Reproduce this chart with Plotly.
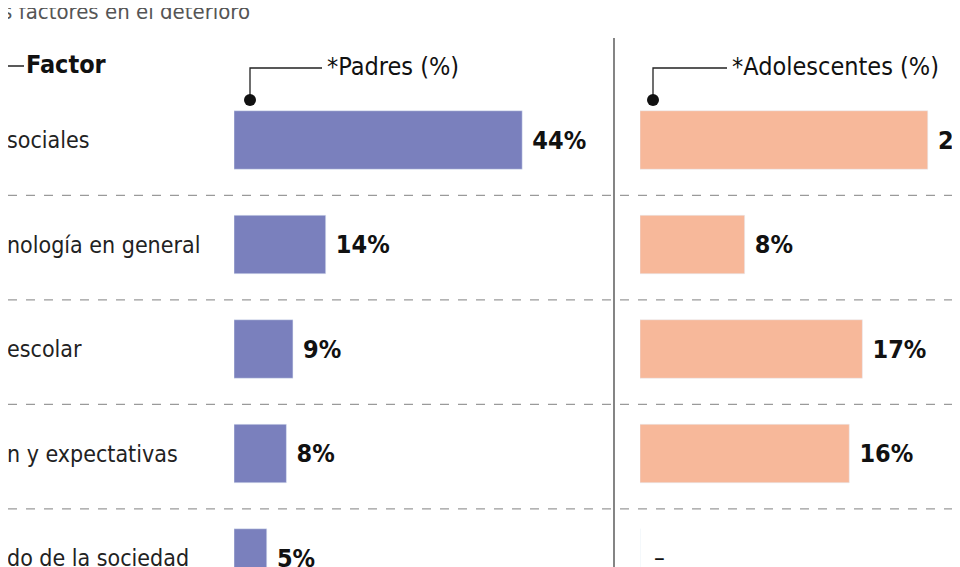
import plotly.graph_objects as go

W, H = 960, 567
OFF = 8  # page body margin

factores = ["sociales", "nología en general", "escolar", "n y expectativas", "do de la sociedad"]
padres = [44, 14, 9, 8, 5]
adolescentes = [22, 8, 17, 16, None]

FONT = "DejaVu Sans Condensed, Liberation Sans Narrow, sans-serif"
PURPLE = "#7a80bd"
SALMON = "#f7b89a"

# pixel helpers (screen pixels -> paper coords)
def px(x):
    return (x - OFF) / W

def py(y):
    return 1 - (y - OFF) / H

rows = list(range(len(factores)))
row_gap = 104.5
y_top = -(140 - OFF) / row_gap
y_bot = (H - (140 - OFF)) / row_gap

fig = go.Figure()

fig.add_trace(go.Bar(
    x=padres, y=rows, orientation="h", marker_color=PURPLE, width=0.56,
    text=[f" <b>{v}%</b>" for v in padres], textposition="outside", cliponaxis=False,
    textfont=dict(family=FONT, size=25, color="#111"), xaxis="x", yaxis="y",
))
fig.add_trace(go.Bar(
    x=[v if v is not None else 0 for v in adolescentes], y=rows, orientation="h",
    marker_color=SALMON, width=0.56,
    text=[f" <b>{v}%</b>" if v is not None else "" for v in adolescentes],
    textposition="outside", cliponaxis=False,
    textfont=dict(family=FONT, size=25, color="#111"), xaxis="x2", yaxis="y",
))

fig.add_annotation(x=1.5, y=4, xref="x2", yref="y", text="–", showarrow=False,
                   font=dict(family=FONT, size=24, color="#111"), xanchor="center")

# row labels
for i, f in enumerate(factores):
    fig.add_annotation(x=px(5), y=i, xref="paper", yref="y", text=f, showarrow=False,
                       xanchor="left", font=dict(family=FONT, size=23, color="#222"))

# dashed separators
for i in range(len(factores) - 1):
    fig.add_shape(type="line", xref="paper", yref="y", x0=0, x1=1, y0=i + 0.53, y1=i + 0.53,
                  line=dict(color="#9a9a9a", width=1.2, dash="dash"))

# vertical separator
fig.add_shape(type="line", xref="paper", yref="paper", x0=px(614), x1=px(614), y0=0, y1=py(38),
              line=dict(color="#333", width=1.2))

# headers
fig.add_annotation(x=px(-12), y=py(11), xref="paper", yref="paper", text="os factores en el deterioro",
                   showarrow=False, xanchor="left", yanchor="middle",
                   font=dict(family=FONT, size=22, color="#555"))
fig.add_shape(type="line", xref="paper", yref="paper", x0=0, x1=px(24), y0=py(66), y1=py(66),
              line=dict(color="#222", width=1.5))
fig.add_annotation(x=px(24), y=py(65), xref="paper", yref="paper", text="<b>Factor</b>",
                   showarrow=False, xanchor="left", yanchor="middle",
                   font=dict(family=FONT, size=25, color="#111"))

for x0, x1, label in [(250, 322, "*Padres (%)"), (653, 727, "*Adolescentes (%)")]:
    fig.add_shape(type="path", xref="paper", yref="paper",
                  path=f"M {px(x1)} {py(68)} L {px(x0)} {py(68)} L {px(x0)} {py(98)}",
                  line=dict(color="#222", width=1.3))
    fig.add_shape(type="circle", xref="paper", yref="paper",
                  x0=px(x0 - 6), x1=px(x0 + 6), y0=py(106), y1=py(94),
                  fillcolor="#111", line=dict(width=0))
    fig.add_annotation(x=px(x1 + 3), y=py(66), xref="paper", yref="paper", text=label,
                       showarrow=False, xanchor="left", yanchor="middle",
                       font=dict(family=FONT, size=25, color="#111"))

fig.update_layout(
    width=W, height=H, margin=dict(l=0, r=0, t=0, b=0),
    plot_bgcolor="white", paper_bgcolor="white", showlegend=False,
    xaxis=dict(domain=[px(234), px(614)], range=[0, 380 / 6.55], visible=False),
    xaxis2=dict(domain=[px(640), 1], range=[0, (W + OFF - 640) / 13.08], visible=False),
    yaxis=dict(range=[y_bot, y_top], visible=False),
)

fig.write_html("out.html")
